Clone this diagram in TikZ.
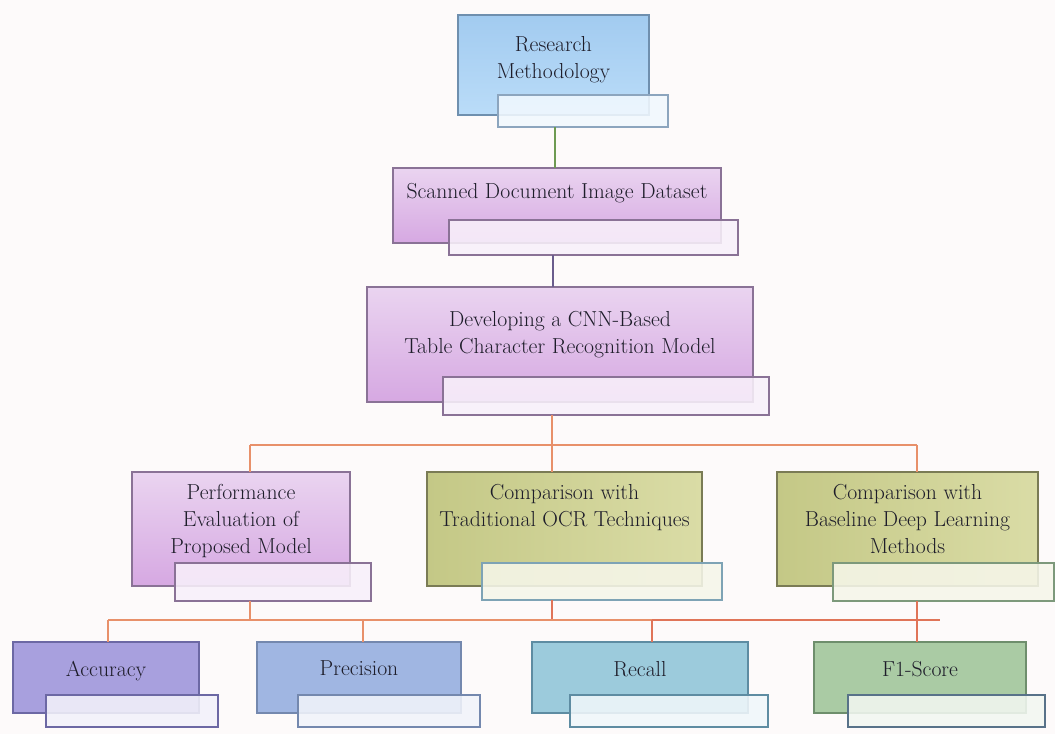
\documentclass[tikz,border=0pt]{standalone}
\usepackage{xcolor}
\definecolor{bg}{HTML}{FDFAFA}
\definecolor{txt}{HTML}{1E1D2A}
\definecolor{blueT}{HTML}{A2CBF0}\definecolor{blueB}{HTML}{BADCF8}\definecolor{blueD}{HTML}{6F8FAE}
\definecolor{purT}{HTML}{EAD4F0}\definecolor{purB}{HTML}{D6A8E2}\definecolor{purD}{HTML}{8A7296}
\definecolor{oliL}{HTML}{C4C886}\definecolor{oliR}{HTML}{DADCA6}\definecolor{oliD}{HTML}{7A7B55}
\definecolor{accF}{HTML}{A8A0DE}\definecolor{accD}{HTML}{6C68A4}
\definecolor{preF}{HTML}{A0B6E2}\definecolor{preD}{HTML}{7488AE}
\definecolor{recF}{HTML}{9CCBDC}\definecolor{recD}{HTML}{5E8CA2}
\definecolor{f1F}{HTML}{AACBA4}\definecolor{f1D}{HTML}{6E8E6C}
\definecolor{cgreen}{HTML}{6E9A52}
\definecolor{cpurple}{HTML}{6A5C8C}
\definecolor{corange}{HTML}{E8906A}
\definecolor{cred}{HTML}{E07458}
\tikzset{
  mbox/.style={anchor=north west, inner sep=0pt, outer sep=0pt, line width=1.2pt, text=txt,
    font=\fontsize{21.7}{27}\selectfont},
  sbox/.style={anchor=north west, inner sep=0pt, outer sep=0pt, line width=1.4pt, fill opacity=0.88},
  conn/.style={line width=1.8pt}
}
\newcommand{\bxt}[4]{\parbox[c][#2pt][t]{#1pt}{\centering\vspace*{#3pt}#4}}
\begin{document}
\begin{tikzpicture}[x=1pt,y=-1pt]
\fill[bg] (0,0) rectangle (1055,734);
\useasboundingbox (0,0) rectangle (1055,734);

% Level 1
\node[mbox, draw=blueD, top color=blueT, bottom color=blueB] (rm) at (458,15) {\bxt{191}{100}{21}{Research\\Methodology}};
\node[sbox, draw=blueD!80, fill=blueB!20, minimum width=170pt, minimum height=32pt] (rms) at (498,95) {};

% Level 2
\node[mbox, draw=purD, top color=purT, bottom color=purB] (sd) at (393,168) {\bxt{328}{75}{15}{Scanned Document Image Dataset}};
\node[sbox, draw=purD, fill=purT!35, minimum width=289pt, minimum height=35pt] (sds) at (449,220) {};

% Level 3
\node[mbox, draw=purD, top color=purT, bottom color=purB] (dev) at (367,287) {\bxt{386}{115}{24}{Developing a CNN-Based\\Table Character Recognition Model}};
\node[sbox, draw=purD, fill=purT!35, minimum width=326pt, minimum height=38pt] (devs) at (443,377) {};

% Level 4
\node[mbox, draw=purD, top color=purT, bottom color=purB] (perf) at (132,472) {\bxt{218}{114}{12}{Performance\\Evaluation of\\Proposed Model}};
\node[sbox, draw=purD, fill=purT!35, minimum width=196pt, minimum height=38pt] (perfs) at (175,563) {};

\node[mbox, draw=oliD, left color=oliL, right color=oliR] (ocr) at (427,472) {\bxt{275}{114}{12}{Comparison with\\Traditional OCR Techniques}};
\node[sbox, draw=recD!80, fill=oliR!25, minimum width=240pt, minimum height=37pt] (ocrs) at (482,563) {};

\node[mbox, draw=oliD, left color=oliL, right color=oliR] (base) at (777,472) {\bxt{261}{114}{12}{Comparison with\\Baseline Deep Learning\\Methods}};
\node[sbox, draw=f1D!90, fill=oliR!25, minimum width=221pt, minimum height=38pt] (bases) at (833,563) {};

% Level 5
\node[mbox, draw=accD, fill=accF] (acc) at (13,642) {\bxt{186}{71}{19}{Accuracy}};
\node[sbox, draw=accD, fill=accF!15, minimum width=172pt, minimum height=32pt] (accs) at (46,695) {};

\node[mbox, draw=preD, fill=preF] (prec) at (257,642) {\bxt{204}{71}{19}{Precision}};
\node[sbox, draw=preD, fill=preF!15, minimum width=182pt, minimum height=32pt] (precs) at (298,695) {};

\node[mbox, draw=recD, fill=recF] (rec) at (532,642) {\bxt{216}{71}{19}{Recall}};
\node[sbox, draw=recD, fill=recF!15, minimum width=198pt, minimum height=32pt] (recs) at (570,695) {};

\node[mbox, draw=f1D, fill=f1F] (f1) at (814,642) {\bxt{212}{71}{19}{F1-Score}};
\node[sbox, draw=f1D!80!blue, fill=f1F!15, minimum width=197pt, minimum height=32pt] (f1s) at (848,695) {};

% junctions
\coordinate (j1) at (552,445);
\coordinate (jL) at (250,445);
\coordinate (jR) at (917,445);
\coordinate (k1) at (250,620);
\coordinate (k2) at (552,620);
\coordinate (k3) at (917,620);
\coordinate (kL) at (108,620);
\coordinate (kE) at (940,620);
\coordinate (kP) at (363,620);
\coordinate (kR) at (652,620);

% connectors
\draw[conn, cgreen] (rms.south -| 555,0) -- (sd.north -| 555,0);
\draw[conn, cpurple] (sds.south -| 553,0) -- (dev.north -| 553,0);
\draw[conn, corange] (devs.south -| j1) -- (j1);
\draw[conn, corange] (jL) -- (jR);
\draw[conn, corange] (jL) -- (jL |- perf.north);
\draw[conn, corange] (j1) -- (j1 |- ocr.north);
\draw[conn, corange] (jR) -- (jR |- base.north);

\draw[conn, corange] (perfs.south -| k1) -- (k1);
\draw[conn, cred] (ocrs.south -| k2) -- (k2);
\draw[conn, cred] (bases.south -| k3) -- (k3);
\draw[conn, corange] (kL) -- (kR);
\draw[conn, cred] (kR) -- (kE);
\draw[conn, corange] (kL) -- (kL |- acc.north);
\draw[conn, corange] (kP) -- (kP |- prec.north);
\draw[conn, cred] (kR) -- (kR |- rec.north);
\draw[conn, cred] (k3) -- (k3 |- f1.north);
\end{tikzpicture}
\end{document}
